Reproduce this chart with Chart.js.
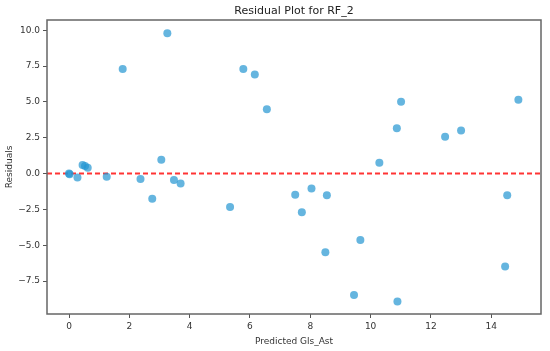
<!DOCTYPE html>
<html>
<head>
<meta charset="utf-8">
<script src="https://cdn.jsdelivr.net/npm/chart.js@4.4.1/dist/chart.umd.min.js"></script>
<style>
  html, body { margin: 0; padding: 0; background: #fff; }
  #wrap { width: 550px; height: 351px; }
</style>
</head>
<body>
<div id="wrap"><canvas id="residChart" width="550" height="351"></canvas></div>
<script>
// valeurs
const predicted = [0, 0.02, 0.28, 0.45, 0.53, 0.62, 1.25, 1.78, 2.37, 2.76, 3.06, 3.26, 3.48, 3.70,
    5.34, 5.78, 6.16, 6.56, 7.50, 7.72, 8.04, 8.50, 8.55, 9.45, 9.66, 10.29, 10.87, 10.89,
    11.01, 12.47, 13.00, 14.46, 14.53, 14.90];
const residuals = [0, -0.05, -0.27, 0.59, 0.52, 0.41, -0.22, 7.29, -0.38, -1.76, 0.96, 9.78, -0.45, -0.69,
    -2.34, 7.29, 6.9, 4.48, -1.48, -2.71, -1.04, -5.5, -1.52, -8.48, -4.64, 0.75, 3.15, -8.92,
    5.01, 2.57, 3.0, -6.48, -1.52, 5.15];
const xTicks = [0, 2, 4, 6, 8, 10, 12, 14];
const yTicks = [-7.5, -5.0, -2.5, 0.0, 2.5, 5.0, 7.5, 10.0];
const xRange = [-0.73, 15.65];
const yRange = [-9.8, 10.71];
const titleText = 'Residual Plot for RF_2';

const points = predicted.map((x, i) => ({ x: x, y: residuals[i] }));
const zeroLine = [{ x: xRange[0], y: 0 }, { x: xRange[1], y: 0 }];

// cadre complet + titre centré sur la zone du graphique (comme matplotlib)
const frame = {
    id: 'frame',
    afterDatasetsDraw(chart) {
        const a = chart.chartArea;
        const ctx = chart.ctx;
        ctx.save();
        ctx.strokeStyle = '#666';
        ctx.lineWidth = 1.5;
        ctx.strokeRect(a.left, a.top, a.right - a.left, a.bottom - a.top);
        ctx.fillStyle = '#222';
        ctx.font = '11px "DejaVu Sans", sans-serif';
        ctx.textAlign = 'center';
        ctx.textBaseline = 'alphabetic';
        ctx.fillText(titleText, (a.left + a.right) / 2, a.top - 6);
        ctx.restore();
    }
};

Chart.defaults.font.family = '"DejaVu Sans", sans-serif';
Chart.defaults.color = '#333';

new Chart(document.getElementById('residChart'), {
    type: 'scatter',
    data: {
        datasets: [{
            data: zeroLine,
            showLine: true,
            borderColor: 'rgba(255, 30, 30, 0.9)',
            borderWidth: 1.8,
            borderDash: [5, 3],
            pointRadius: 0,
            order: 1
        }, {
            data: points,
            backgroundColor: 'rgba(35, 150, 210, 0.7)',
            borderColor: 'rgba(35, 150, 210, 0.7)',
            borderWidth: 0,
            pointRadius: 4,
            order: 0
        }]
    },
    options: {
        responsive: false,
        animation: false,
        layout: { padding: { left: 0, right: 9, top: 20, bottom: 0 } },
        plugins: {
            legend: { display: false },
            tooltip: { enabled: false },
            title: { display: false }
        },
        scales: {
            x: {
                type: 'linear',
                min: xRange[0],
                max: xRange[1],
                afterBuildTicks: (s) => { s.ticks = xTicks.map(v => ({ value: v })); },
                afterFit: (s) => { s.height = 37; },
                grid: { display: true, drawOnChartArea: false, drawTicks: true, tickLength: 4, color: '#555' },
                border: { display: false },
                ticks: { font: { size: 9 }, padding: 3, maxRotation: 0, callback: v => v },
                title: { display: true, text: 'Predicted Gls_Ast', font: { size: 9 }, padding: { top: 0 } }
            },
            y: {
                type: 'linear',
                min: yRange[0],
                max: yRange[1],
                afterBuildTicks: (s) => { s.ticks = yTicks.map(v => ({ value: v })); },
                afterFit: (s) => { s.width = 47; },
                grid: { display: true, drawOnChartArea: false, drawTicks: true, tickLength: 4, color: '#555' },
                border: { display: false },
                ticks: { font: { size: 9 }, padding: 3, callback: v => v.toFixed(1).replace('-', '\u2212') },
                title: { display: true, text: 'Residuals', font: { size: 9 }, padding: { bottom: 2 } }
            }
        }
    },
    plugins: [frame]
});
</script>
</body>
</html>
